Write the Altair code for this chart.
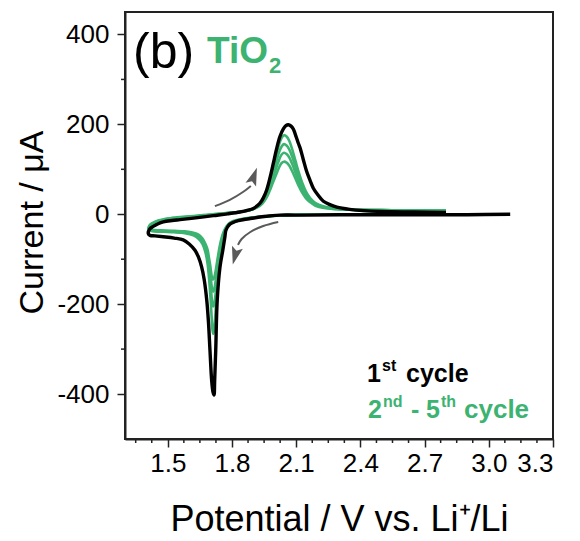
import altair as alt
import pandas as pd

FONT = "Liberation Sans"
GREEN = "#3CB371"
BLACK = "#000000"
ARROW = "#5a5a5a"

# ---- data: (potential V, current uA) in sweep order ----
cycle1 = [(3.10, 0), (2.90, -1), (2.70, -1), (2.50, -1), (2.30, -1), (2.15, -2), (2.024, -2), (1.95, -5),
          (1.88, -10), (1.83, -14), (1.79, -22), (1.772, -35), (1.767, -50), (1.757, -80), (1.744, -117),
          (1.731, -191), (1.724, -302), (1.719, -370), (1.716, -402), (1.711, -395), (1.705, -370),
          (1.697, -302), (1.690, -240), (1.682, -191), (1.670, -145), (1.658, -117), (1.643, -95),
          (1.627, -80), (1.600, -66), (1.572, -57), (1.530, -53), (1.479, -50), (1.440, -48), (1.417, -47),
          (1.409, -43), (1.415, -33), (1.432, -27), (1.455, -21), (1.479, -17), (1.520, -14), (1.557, -12),
          (1.630, -8), (1.713, -3), (1.780, 1), (1.837, 5), (1.875, 9), (1.900, 13), (1.930, 24),
          (1.947, 37), (1.962, 54), (1.978, 82), (1.993, 113), (2.008, 145), (2.024, 173), (2.040, 190),
          (2.052, 197), (2.063, 199), (2.076, 196), (2.087, 189), (2.100, 172), (2.110, 158), (2.118, 148),
          (2.133, 122), (2.149, 95), (2.165, 75), (2.180, 58), (2.200, 44), (2.227, 29), (2.260, 21),
          (2.290, 16), (2.350, 11), (2.414, 8), (2.500, 6), (2.650, 5), (2.800, 4)]

cycle2 = [(2.80, 6), (2.60, 2), (2.40, 0), (2.20, -1), (2.05, -2), (1.95, -5), (1.88, -9), (1.83, -14),
          (1.796, -20), (1.777, -30), (1.764, -45), (1.753, -65), (1.744, -90), (1.736, -125), (1.728, -175),
          (1.722, -225), (1.717, -255), (1.713, -266), (1.709, -258), (1.705, -230), (1.700, -190),
          (1.694, -150), (1.686, -110), (1.676, -85), (1.662, -66), (1.645, -55), (1.620, -47), (1.580, -42),
          (1.530, -40), (1.480, -39), (1.440, -38), (1.418, -37), (1.411, -34), (1.416, -27), (1.430, -22),
          (1.455, -17), (1.490, -13), (1.540, -10), (1.620, -6), (1.710, -2), (1.790, 2), (1.850, 6),
          (1.890, 11), (1.920, 19), (1.942, 32), (1.960, 50), (1.975, 72), (1.990, 100), (2.005, 128),
          (2.020, 155), (2.032, 170), (2.043, 176), (2.055, 173), (2.068, 163), (2.082, 143), (2.097, 118),
          (2.112, 93), (2.128, 70), (2.145, 51), (2.165, 36), (2.190, 25), (2.230, 17), (2.300, 12),
          (2.400, 10), (2.550, 9), (2.700, 8), (2.800, 8)]

cycle3 = [(2.80, 6), (2.60, 2), (2.40, 0), (2.20, -1), (2.05, -2), (1.95, -5), (1.88, -9), (1.83, -14),
          (1.795, -20), (1.776, -29), (1.763, -43), (1.752, -62), (1.743, -86), (1.735, -118), (1.727, -158),
          (1.721, -188), (1.716, -202), (1.712, -205), (1.708, -198), (1.704, -180), (1.699, -155),
          (1.693, -127), (1.686, -98), (1.676, -78), (1.662, -62), (1.645, -52), (1.620, -45), (1.580, -41),
          (1.530, -39), (1.480, -38), (1.440, -37), (1.418, -36), (1.411, -33), (1.416, -26), (1.430, -21),
          (1.455, -16), (1.490, -12), (1.540, -9), (1.620, -5), (1.710, -1), (1.790, 3), (1.850, 6),
          (1.890, 11), (1.920, 18), (1.942, 30), (1.960, 46), (1.975, 66), (1.990, 90), (2.005, 115),
          (2.020, 138), (2.032, 151), (2.043, 156), (2.055, 153), (2.068, 144), (2.082, 127), (2.097, 105),
          (2.112, 83), (2.128, 63), (2.145, 46), (2.165, 33), (2.190, 23), (2.230, 16), (2.300, 12),
          (2.400, 10), (2.550, 9), (2.700, 8), (2.800, 8)]

cycle4 = [(2.80, 6), (2.60, 2), (2.40, 0), (2.20, -1), (2.05, -2), (1.95, -5), (1.88, -9), (1.83, -13),
          (1.794, -19), (1.775, -28), (1.762, -41), (1.751, -59), (1.742, -81), (1.734, -108), (1.726, -140),
          (1.720, -160), (1.715, -170), (1.711, -172), (1.707, -166), (1.703, -152), (1.699, -132),
          (1.693, -110), (1.686, -88), (1.676, -72), (1.662, -58), (1.645, -49), (1.620, -43), (1.580, -40),
          (1.530, -38), (1.480, -37), (1.440, -36), (1.418, -35), (1.411, -32), (1.416, -25), (1.430, -20),
          (1.455, -15), (1.490, -11), (1.540, -8), (1.620, -5), (1.710, -1), (1.790, 3), (1.850, 6),
          (1.890, 10), (1.920, 17), (1.942, 27), (1.960, 41), (1.975, 59), (1.990, 80), (2.005, 101),
          (2.020, 121), (2.032, 133), (2.043, 137), (2.055, 134), (2.068, 126), (2.082, 111), (2.097, 92),
          (2.112, 73), (2.128, 56), (2.145, 41), (2.165, 30), (2.190, 21), (2.230, 15), (2.300, 11),
          (2.400, 10), (2.550, 9), (2.700, 8), (2.800, 8)]

cycle5 = [(2.80, 6), (2.60, 2), (2.40, 0), (2.20, -1), (2.05, -2), (1.95, -5), (1.88, -8), (1.83, -12),
          (1.793, -18), (1.774, -27), (1.761, -39), (1.750, -55), (1.741, -75), (1.733, -98), (1.725, -122),
          (1.719, -137), (1.714, -144), (1.710, -145), (1.706, -140), (1.702, -128), (1.698, -113),
          (1.692, -96), (1.686, -79), (1.676, -66), (1.662, -54), (1.645, -46), (1.620, -41), (1.580, -38),
          (1.530, -37), (1.480, -36), (1.440, -35), (1.418, -34), (1.411, -31), (1.416, -24), (1.430, -19),
          (1.455, -14), (1.490, -10), (1.540, -7), (1.620, -4), (1.710, 0), (1.790, 3), (1.850, 6),
          (1.890, 10), (1.920, 16), (1.942, 24), (1.960, 36), (1.975, 51), (1.990, 69), (2.005, 87),
          (2.020, 104), (2.032, 114), (2.043, 117), (2.055, 115), (2.068, 108), (2.082, 95), (2.097, 79),
          (2.112, 63), (2.128, 48), (2.145, 36), (2.165, 27), (2.190, 19), (2.230, 14), (2.300, 11),
          (2.400, 9), (2.550, 8), (2.700, 8), (2.800, 8)]

# sweep-direction arrows (annotation paths, data coords)
arrow_up = [(1.720, 18), (1.790, 32), (1.853, 50), (1.888, 63)]
arrow_up_head = (1.900, 82)
arrow_dn = [(2.016, -17), (1.946, -26), (1.884, -40), (1.845, -55), (1.828, -68)]
arrow_dn_head = (1.816, -90)

X_TICKS = [1.5, 1.8, 2.1, 2.4, 2.7, 3.0, 3.3]
X_MINOR = [1.35, 1.425, 1.575, 1.65, 1.725, 1.875, 1.95, 2.025, 2.175, 2.25, 2.325, 2.475, 2.55,
           2.625, 2.775, 2.85, 2.925, 3.075, 3.15, 3.225]
Y_TICKS = [-400, -200, 0, 200, 400]
Y_MINOR = [-300, -100, 100, 300]

# ---- build tables ----
def to_df(pts, name):
    return pd.DataFrame({"E": [p[0] for p in pts], "I": [p[1] for p in pts],
                         "k": list(range(len(pts))), "cycle": name})

green_df = pd.concat([to_df(cycle2, "2"), to_df(cycle3, "3"), to_df(cycle4, "4"), to_df(cycle5, "5")])
black_df = to_df(cycle1, "1")

xs = alt.Scale(domain=[1.3, 3.3], nice=False, zero=False)
ys = alt.Scale(domain=[-500, 450], nice=False, zero=False)

x_axis = alt.Axis(values=X_TICKS, format=".1f", grid=False, tickSize=8, tickWidth=1.5, tickColor="#222",
                  domainColor="#222", domainWidth=2, labelFont=FONT, labelFontSize=26, labelColor="black",
                  labelPadding=3, title="Potential / V vs. Li⁺/Li", titleFont=FONT, titleFontSize=36,
                  titleFontWeight="normal", titleColor="black", titleBaseline="alphabetic", titleY=91)
y_axis = alt.Axis(values=Y_TICKS, labelExpr="'' + datum.value", grid=False, tickSize=8, tickWidth=1.5,
                  tickColor="#222", domainColor="#222", domainWidth=2, labelFont=FONT, labelFontSize=26,
                  labelColor="black", labelPadding=8, title="Current / μA", titleFont=FONT,
                  titleFontSize=34, titleFontWeight="normal", titleColor="black",
                  titleBaseline="alphabetic", titleX=-83, titleY=210)

X = lambda: alt.X("E:Q", scale=xs, axis=x_axis)
Y = lambda: alt.Y("I:Q", scale=ys, axis=y_axis)

green = alt.Chart(green_df).mark_line(strokeWidth=2.6, color=GREEN, interpolate="catmull-rom").encode(
    x=X(), y=Y(), detail="cycle:N", order="k:Q")
black = alt.Chart(black_df).mark_line(strokeWidth=3.4, color=BLACK, interpolate="catmull-rom").encode(
    x=X(), y=Y(), order="k:Q")

def shaft(pts):
    d = to_df(pts, "a")
    return alt.Chart(d).mark_line(strokeWidth=2, color=ARROW, interpolate="catmull-rom").encode(
        x=X(), y=Y(), order="k:Q")

HEAD = "M0,-1L0.55,0.75L0,0.4L-0.55,0.75Z"

def head(p, ang):
    d = pd.DataFrame({"E": [p[0]], "I": [p[1]]})
    return alt.Chart(d).mark_point(shape=HEAD, filled=True, size=420, color=ARROW, opacity=1,
                                   strokeWidth=0, angle=ang).encode(x=X(), y=Y())

xminor = alt.Chart(pd.DataFrame({"E": X_MINOR})).mark_rule(color="#222", strokeWidth=1.5).encode(
    x=X(), y=alt.value(427), y2=alt.value(431))
yminor = alt.Chart(pd.DataFrame({"I": Y_MINOR})).mark_rule(color="#222", strokeWidth=1.5).encode(
    y=Y(), x=alt.value(0), x2=alt.value(-4))

def txt(s, x, y, size, color, bold=False):
    return alt.Chart(pd.DataFrame({"t": [s]})).mark_text(
        font=FONT, fontSize=size, fontWeight="bold" if bold else "normal", color=color,
        align="left", baseline="alphabetic").encode(
        x=alt.value(x), y=alt.value(y), text=alt.value(s))

texts = [
    txt("(b)", 8, 56, 50, BLACK),
    txt("TiO", 82, 51, 37, GREEN, True),
    txt("2", 144, 61, 22, GREEN, True),
    txt("1", 242, 370, 25, BLACK, True),
    txt("st", 257, 359, 16, BLACK, True),
    txt("cycle", 281, 370, 25, BLACK, True),
    txt("2", 243, 406, 25, GREEN, True),
    txt("nd", 258, 395, 16, GREEN, True),
    txt("-", 286, 406, 25, GREEN, True),
    txt("5", 301, 406, 25, GREEN, True),
    txt("th", 316, 395, 16, GREEN, True),
    txt("cycle", 339, 406, 26, GREEN, True),
]

chart = alt.layer(
    green, black,
    shaft(arrow_up), head(arrow_up_head, 20),
    shaft(arrow_dn), head(arrow_dn_head, 195),
    xminor, yminor, *texts,
).properties(
    width=428, height=427,
    autosize=alt.AutoSizeParams(type="none"),
    padding={"left": 125, "top": 12, "right": 27, "bottom": 102},
    background="white",
).configure_view(stroke="#222", strokeWidth=2)

chart.save("out.html", embed_options={"renderer": "svg", "actions": False})
